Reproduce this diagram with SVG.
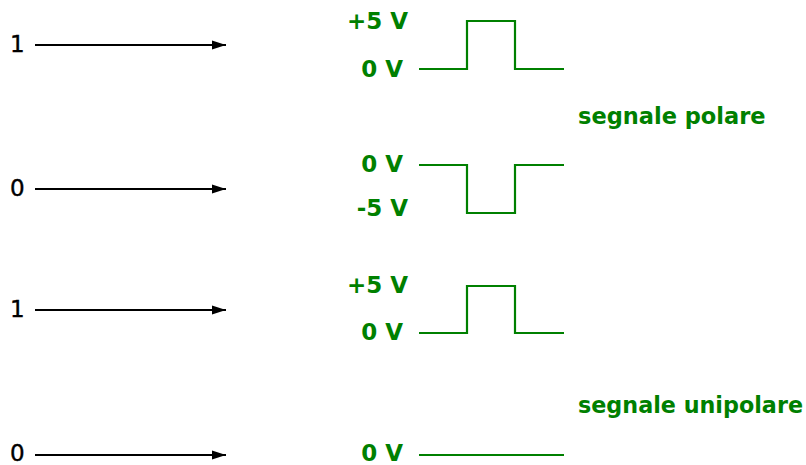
<svg xmlns="http://www.w3.org/2000/svg" width="806" height="465" viewBox="0 0 806 465">
  <style>
    .bit { font-family: "DejaVu Sans", sans-serif; font-size: 23px; fill: #000; stroke: #000; stroke-width: 0.4; }
    .lvl { font-family: "DejaVu Sans", sans-serif; font-size: 23px; font-weight: bold; fill: #008000; }
    .name { font-family: "DejaVu Sans", sans-serif; font-size: 22.5px; font-weight: bold; fill: #008000; }
    .wave { fill: none; stroke: #008000; stroke-width: 2.2; }
    .arrow { stroke: #000; stroke-width: 2; fill: none; }
  </style>
  <defs>
    <marker id="head" markerWidth="14" markerHeight="10" refX="14" refY="5" orient="auto" markerUnits="userSpaceOnUse">
      <path d="M0,0.5 L14,5 L0,9.5 Z" fill="#000"/>
    </marker>
  </defs>

  <!-- bit inputs -->
  <g id="bit1a"><text class="bit" x="10" y="52">1</text></g>
  <g id="bit0a"><text class="bit" x="10" y="196">0</text></g>
  <g id="bit1b"><text class="bit" x="10" y="317">1</text></g>
  <g id="bit0b"><text class="bit" x="10" y="461">0</text></g>

  <g id="connectors">
    <line class="arrow" x1="35" y1="45" x2="226" y2="45" marker-end="url(#head)"/>
    <line class="arrow" x1="35" y1="189" x2="226" y2="189" marker-end="url(#head)"/>
    <line class="arrow" x1="35" y1="310" x2="226" y2="310" marker-end="url(#head)"/>
    <line class="arrow" x1="35" y1="455" x2="226" y2="455" marker-end="url(#head)"/>
  </g>

  <!-- polar signal, bit 1 -->
  <g id="polar1">
    <text class="lvl" x="408" y="28.5" text-anchor="end">+5 V</text>
    <text class="lvl" x="403" y="77" text-anchor="end">0 V</text>
    <path class="wave" d="M419,69 H467 V21 H515 V69 H564"/>
  </g>

  <!-- polar signal, bit 0 -->
  <g id="polar0">
    <text class="lvl" x="403" y="172" text-anchor="end">0 V</text>
    <text class="lvl" x="408" y="216" text-anchor="end">-5 V</text>
    <path class="wave" d="M419,165 H467 V213 H515 V165 H564"/>
  </g>

  <g id="label-polar"><text class="name" x="578" y="124">segnale polare</text></g>

  <!-- unipolar signal, bit 1 -->
  <g id="unipolar1">
    <text class="lvl" x="408" y="293" text-anchor="end">+5 V</text>
    <text class="lvl" x="403" y="340" text-anchor="end">0 V</text>
    <path class="wave" d="M419,333 H467 V286 H515 V333 H564"/>
  </g>

  <!-- unipolar signal, bit 0 -->
  <g id="unipolar0">
    <text class="lvl" x="403" y="461" text-anchor="end">0 V</text>
    <path class="wave" d="M419,455 H564"/>
  </g>

  <g id="label-unipolar"><text class="name" x="578" y="413" textLength="225" lengthAdjust="spacingAndGlyphs">segnale unipolare</text></g>
</svg>
